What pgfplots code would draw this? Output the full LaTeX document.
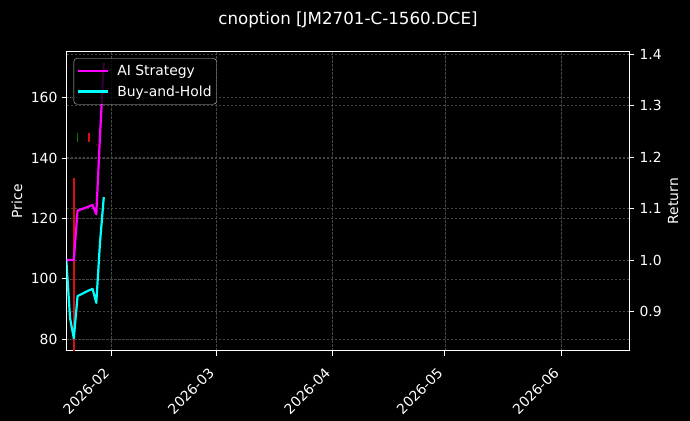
\documentclass[border=0pt]{standalone}
\usepackage{pgfplots}
\pgfplotsset{compat=1.18}
\usepackage{fontspec}
\setmainfont{DejaVu Sans}
\definecolor{gridc}{RGB}{68,68,68}
\definecolor{candred}{RGB}{215,15,15}
\definecolor{candgreen}{RGB}{0,125,0}
\definecolor{legedge}{RGB}{200,200,200}
\definecolor{aimag}{RGB}{255,0,255}
\definecolor{bhcyan}{RGB}{0,255,255}
\begin{document}
\begin{tikzpicture}
\fill[black] (-66.5bp,-70.3bp) rectangle (623.5bp,350.7bp);
\pgfplotsset{
  base/.style={
    scale only axis, width=562.9bp, height=299bp, at={(0,0)}, anchor=south west,
    xmin=19.05, xmax=169.25,
    axis line style={white, line width=1bp},
    tick style={white, line width=1bp},
    major tick length=4.9bp,
    tick align=outside,
    ticklabel style={text=white, font=\fontsize{13.9bp}{16bp}\selectfont},
    /pgf/number format/assume math mode=true,
    grid style={gridc, line width=0.6bp, dash pattern=on 2.8bp off 1.2bp},
    label style={text=white, font=\fontsize{13.9bp}{16bp}\selectfont},
  }
}
\begin{axis}[base,
  ymin=76.2, ymax=175.2,
  ytick={80,100,120,140,160},
  xtick={31,59,90,120,151},
  xticklabels={2026-02,2026-03,2026-04,2026-05,2026-06},
  xtick pos=bottom, ytick pos=left,
  xticklabel style={xshift=-8.5bp, yshift=-11bp, rotate=45, anchor=north east, inner sep=0pt},
  yticklabel style={xshift=-4bp, anchor=east, inner sep=0pt},
  xmajorgrids, ymajorgrids,
  ylabel={Price},
  ylabel style={at={(axis description cs:-0.0879,0.5)}, anchor=center},
  title={cnoption [JM2701-C-1560.DCE]},
  title style={at={(axis description cs:0.5001,1.0716)}, anchor=base, text=white, font=\fontsize{16.7bp}{19bp}\selectfont},
]
\addplot[candred, line width=2.5bp, forget plot] coordinates {(21,133.3) (21,60)};
\addplot[candgreen, line width=1.2bp, forget plot] coordinates {(22,145.4) (22,148.2)};
\addplot[candred, line width=1.5bp, forget plot] coordinates {(25,145.2) (25,148.2)};
\addplot[candred!40!black, line width=0.8bp, forget plot] coordinates {(27,144.0) (27,144.6)};
\end{axis}
\begin{axis}[base,
  ymin=0.824, ymax=1.4045,
  axis y line*=right, axis x line=none,
  ytick={0.9,1.0,1.1,1.2,1.3,1.4},
  yticklabel style={/pgf/number format/.cd, fixed, fixed zerofill, precision=1, /tikz/.cd, xshift=5bp, anchor=west, inner sep=0pt},
  ymajorgrids,
  ylabel={Return},
  ylabel style={at={(axis description cs:1.0775,0.5)}, anchor=center, rotate=0},
  legend style={at={(0.0128,0.978)}, anchor=north west, fill=black, fill opacity=0.8, text opacity=1, draw opacity=1, draw=legedge, rounded corners=3bp, text=white, font=\fontsize{13.9bp}{16bp}\selectfont, inner xsep=3bp, inner ysep=4.7bp, row sep=4.5bp, column sep=6bp},
  legend cell align=left,
  legend image code/.code={\draw[#1, line width=2.5bp] (0bp,0bp) -- (30bp,0bp);},
]
\addplot[aimag, line width=2.2bp, line join=round] coordinates {(19,1.0)(20,1.0)(21,1.0)(22,1.096)(25,1.104)(26,1.107)(27,1.089)(28,1.243)(29,1.383)};
\addlegendentry{AI Strategy}
\addplot[bhcyan, line width=2.2bp, line join=round] coordinates {(19,1.0)(20,0.887)(21,0.848)(22,0.930)(25,0.941)(26,0.944)(27,0.917)(28,1.035)(29,1.122)};
\addlegendentry{Buy-and-Hold}
\end{axis}
\pgfresetboundingbox
\path[use as bounding box] (-66.5bp,-70.3bp) rectangle (623.5bp,350.7bp);
\end{tikzpicture}
\end{document}
